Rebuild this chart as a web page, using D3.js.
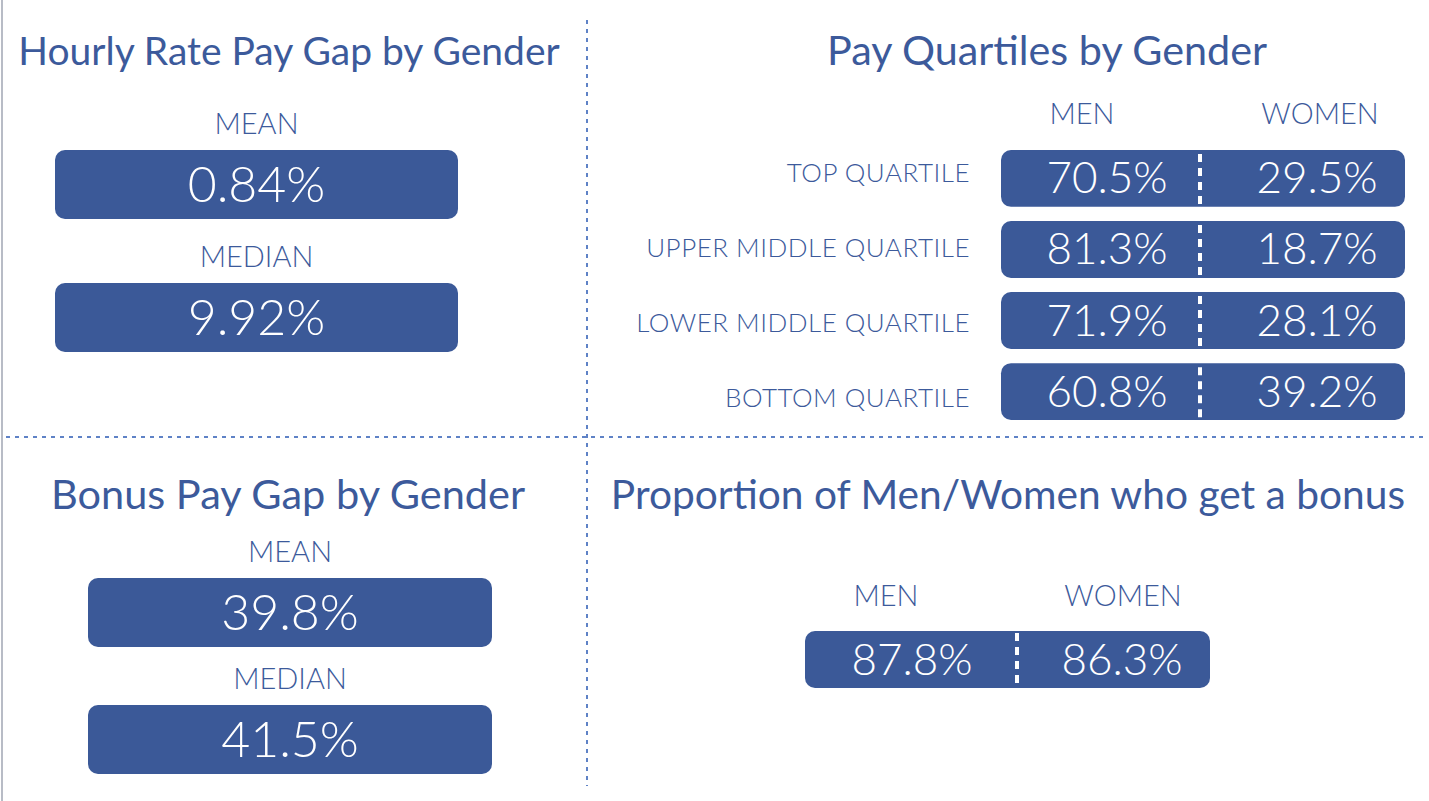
<!DOCTYPE html>
<html><head><meta charset="utf-8">
<script src="https://cdn.jsdelivr.net/npm/d3@7"></script>
<style>
html,body{margin:0;padding:0;background:#fff;}
svg text{font-family:Lato,"Open Sans",sans-serif;}
</style></head>
<body>
<svg id="c" width="1429" height="801"></svg>
<script>
// ---- data ----
const panelTitles = ["Hourly Rate Pay Gap by Gender","Pay Quartiles by Gender","Bonus Pay Gap by Gender","Proportion of Men/Women who get a bonus"];
const gapLabels = ["MEAN","MEDIAN"];
const hourlyGap = [0.84, 9.92];
const bonusGap = [39.8, 41.5];
const quartileLabels = ["TOP QUARTILE","UPPER MIDDLE QUARTILE","LOWER MIDDLE QUARTILE","BOTTOM QUARTILE"];
const genderLabels = ["MEN","WOMEN"];
const menShare = [70.5, 81.3, 71.9, 60.8];
const womenShare = [29.5, 18.7, 28.1, 39.2];
const bonusReceived = [87.8, 86.3];

const blue = "#3b5998", txt = "#3c5a9b", dotc = "#5f82c6";
const svg = d3.select("#c");

// frame
svg.append("line").attr("x1",2).attr("x2",2).attr("y1",0).attr("y2",801).attr("stroke","#b8bcc6").attr("stroke-width",2);
svg.append("line").attr("x1",587).attr("x2",587).attr("y1",20).attr("y2",786)
  .attr("stroke",dotc).attr("stroke-width",2).attr("stroke-dasharray","4,5");
svg.append("line").attr("x1",6).attr("x2",1426).attr("y1",437).attr("y2",437)
  .attr("stroke",dotc).attr("stroke-width",2).attr("stroke-dasharray","4,5");

function title(t,x,y,fs){
  svg.append("text").attr("x",x).attr("y",y).attr("text-anchor","middle")
    .attr("fill",txt).attr("font-size",fs).attr("font-weight",400).text(t);
}
title(panelTitles[0],289,65,39);
title(panelTitles[1],1047,65,41.3);
title(panelTitles[2],288,509,41.5);
title(panelTitles[3],1008,509,40.7);

const fmt = v => v + "%";
const fmt2 = v => v.toFixed(2) + "%";

// gap panels
function gapPanel(values, x0, x1, yTop, step, f){
  const y = d3.scaleBand().domain(gapLabels).range([yTop, yTop+step*gapLabels.length]).paddingInner(0);
  const g = svg.append("g");
  gapLabels.forEach((lab,i)=>{
    const by = y(lab);
    g.append("text").attr("x",(x0+x1)/2).attr("y",by-16).attr("text-anchor","middle")
      .attr("fill",txt).attr("font-size",29).attr("font-weight",300).text(lab);
    g.append("rect").attr("x",x0).attr("y",by).attr("width",x1-x0).attr("height",69)
      .attr("rx",10).attr("fill",blue);
    g.append("text").attr("x",(x0+x1)/2).attr("y",by+52).attr("text-anchor","middle")
      .attr("fill","#fff").attr("font-size",50).attr("font-weight",300).text(f(values[i]));
  });
}
gapPanel(hourlyGap, 55, 458, 150, 133, fmt2);
gapPanel(bonusGap, 88, 492, 578, 127, fmt);

// quartiles
const qx = d3.scaleLinear().domain([0,100]).range([1001,1405]);
const qy = d3.scaleBand().domain(quartileLabels).range([150,420]).paddingInner(0.2).paddingOuter(0);
const qLab = d3.scalePoint().domain(quartileLabels).range([173,398]);
const divX = 1200;
genderLabels.forEach((gl,i)=>{
  svg.append("text").attr("x", i===0?1082:1320).attr("y",124).attr("text-anchor","middle")
    .attr("fill",txt).attr("font-size",29).attr("font-weight",300).text(gl);
});
quartileLabels.forEach((q,i)=>{
  const y0 = qy(q), h = qy.bandwidth();
  svg.append("text").attr("x",970).attr("y",qLab(q)+9).attr("text-anchor","end")
    .attr("fill",txt).attr("font-size",26).attr("font-weight",300).attr("letter-spacing",0.5).text(q);
  svg.append("rect").attr("x",qx(0)).attr("y",y0).attr("width",qx(100)-qx(0)).attr("height",h)
    .attr("rx",10).attr("fill",blue);
  svg.append("line").attr("x1",divX).attr("x2",divX).attr("y1",y0).attr("y2",y0+h)
    .attr("stroke","#fff").attr("stroke-width",4).attr("stroke-dasharray","8,6").attr("stroke-dashoffset",-4);
  svg.append("text").attr("x",1107).attr("y",y0+h/2+15).attr("text-anchor","middle")
    .attr("fill","#fff").attr("font-size",44).attr("font-weight",300).text(fmt(menShare[i]));
  svg.append("text").attr("x",1317).attr("y",y0+h/2+15).attr("text-anchor","middle")
    .attr("fill","#fff").attr("font-size",44).attr("font-weight",300).text(fmt(womenShare[i]));
});

// bonus proportion
const bx = d3.scaleBand().domain(genderLabels).range([805,1210]);
svg.append("rect").attr("x",bx.range()[0]).attr("y",631).attr("width",bx.range()[1]-bx.range()[0]).attr("height",57).attr("rx",10).attr("fill",blue);
svg.append("line").attr("x1",1017).attr("x2",1017).attr("y1",631).attr("y2",688)
  .attr("stroke","#fff").attr("stroke-width",4).attr("stroke-dasharray","8,6").attr("stroke-dashoffset",-2);
genderLabels.forEach((gl,i)=>{
  svg.append("text").attr("x", i===0?886:1123).attr("y",606).attr("text-anchor","middle")
    .attr("fill",txt).attr("font-size",29).attr("font-weight",300).text(gl);
  svg.append("text").attr("x", i===0?912:1122).attr("y",675).attr("text-anchor","middle")
    .attr("fill","#fff").attr("font-size",44).attr("font-weight",300).text(fmt(bonusReceived[i]));
});
</script>
</body></html>
